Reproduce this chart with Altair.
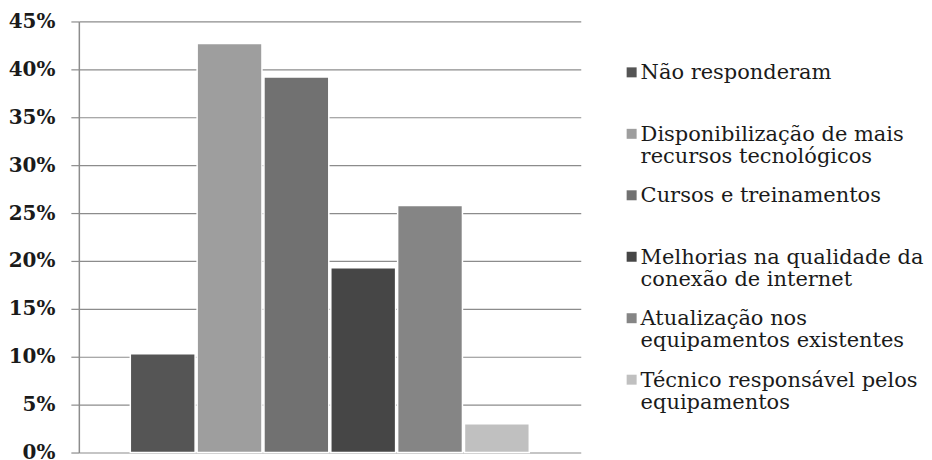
import altair as alt
import pandas as pd

series = [
    "Não responderam",
    "Disponibilização de mais recursos tecnológicos",
    "Cursos e treinamentos",
    "Melhorias na qualidade da conexão de internet",
    "Atualização nos equipamentos existentes",
    "Técnico responsável pelos equipamentos",
]
legend_labels = [
    "Não responderam",
    "Disponibilização de mais\nrecursos tecnológicos",
    "Cursos e treinamentos",
    "Melhorias na qualidade da\nconexão de internet",
    "Atualização nos\nequipamentos existentes",
    "Técnico responsável pelos\nequipamentos",
]
values = [0.103, 0.427, 0.392, 0.193, 0.258, 0.030]
colors = ["#555555", "#9e9e9e", "#717171", "#464646", "#858585", "#c0c0c0"]
tick_values = [0, 0.05, 0.10, 0.15, 0.20, 0.25, 0.30, 0.35, 0.40, 0.45]

df = pd.DataFrame({"series": series, "label": legend_labels, "value": values})

FONT = "DejaVu Serif"
GRID = "#8c8c8c"

color_enc = alt.Color("series:N", scale=alt.Scale(domain=series, range=colors), legend=None)

bars = alt.Chart(df).mark_bar(stroke="white", strokeWidth=1.5).encode(
    x=alt.X("series:N", sort=series, axis=None,
            scale=alt.Scale(paddingInner=0.03, paddingOuter=0.77)),
    y=alt.Y("value:Q",
            scale=alt.Scale(domain=[0, 0.45], nice=False),
            axis=alt.Axis(values=tick_values, format=".0%", title=None,
                          grid=True, gridColor=GRID, gridWidth=1.2,
                          domainColor=GRID, domainWidth=1.5,
                          tickColor=GRID, tickSize=8, tickWidth=1.2,
                          labelPadding=16, labelFont=FONT, labelFontSize=20,
                          labelFontWeight="bold", labelColor="#1a1a1a")),
    color=color_enc,
).properties(width=503, height=432)

leg_base = alt.Chart(df).encode(
    y=alt.Y("series:N", sort=series, axis=None,
            scale=alt.Scale(type="point", range=[51, 359], padding=0))
)
squares = leg_base.mark_square(size=100, opacity=1).encode(
    x=alt.value(8), color=color_enc
)
texts = leg_base.mark_text(align="left", baseline="alphabetic", dy=7,
                           lineBreak="\n", lineHeight=22, font=FONT,
                           fontSize=21, color="#1a1a1a").encode(
    x=alt.value(17), text="label:N"
)
legend = alt.layer(squares, texts).properties(width=300, height=432)

chart = alt.hconcat(bars, legend, spacing=43).configure_view(stroke=None).properties(
    padding={"left": 0, "top": 3, "right": 0, "bottom": 0},
    background="white",
)

chart.save("out.html", embed_options={"renderer": "svg", "actions": False})
